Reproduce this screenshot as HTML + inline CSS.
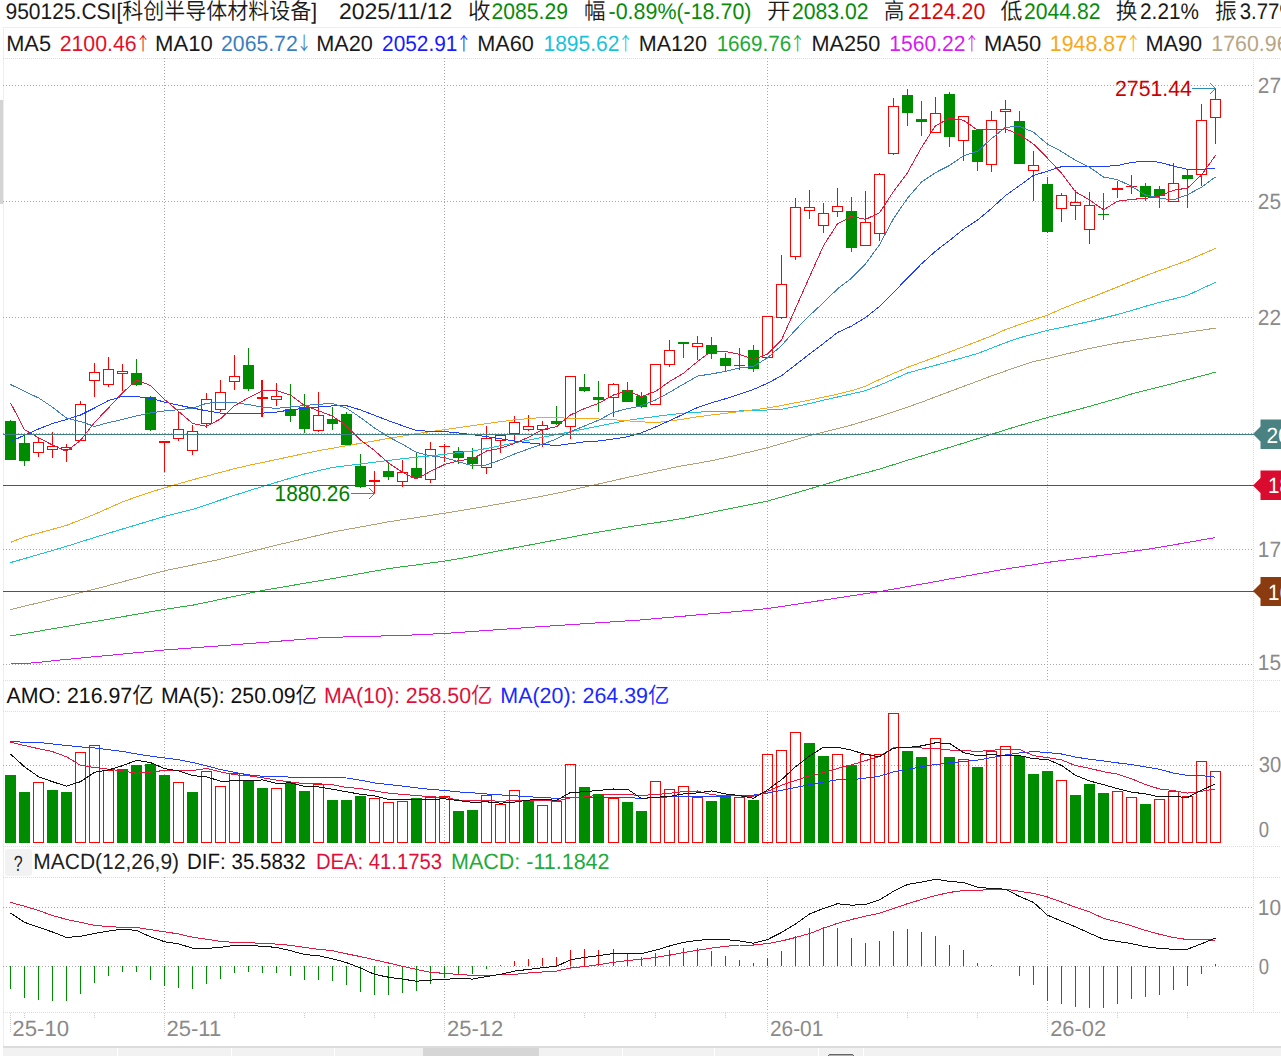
<!DOCTYPE html>
<html><head><meta charset="utf-8"><title>950125.CSI</title>
<style>
html,body{margin:0;padding:0;background:#fff;width:1281px;height:1056px;overflow:hidden;}
#wrap{position:relative;width:1281px;height:1056px;overflow:hidden;}
svg text{font-family:"Liberation Sans", "Noto Sans CJK SC", sans-serif;white-space:pre;text-rendering:geometricPrecision;font-weight:350;}
</style></head><body><div id="wrap">
<svg width="1281" height="1056" viewBox="0 0 1281 1056" style="position:absolute;left:0;top:0" shape-rendering="crispEdges">
<rect x="3" y="28" width="1" height="1018" fill="#eeeeee"/>
<rect x="0" y="100" width="3" height="104" fill="#d4d4d4"/>
<rect x="3" y="27" width="1278" height="1" fill="#eeeeee"/>
<line x1="3" y1="58.5" x2="1281" y2="58.5" stroke="#dddddd" stroke-width="1" stroke-dasharray="1 1"/>
<line x1="3" y1="85.5" x2="1254" y2="85.5" stroke="#a6a6a6" stroke-width="1" stroke-dasharray="1 2"/>
<line x1="3" y1="201.5" x2="1254" y2="201.5" stroke="#a6a6a6" stroke-width="1" stroke-dasharray="1 2"/>
<line x1="3" y1="317.5" x2="1254" y2="317.5" stroke="#a6a6a6" stroke-width="1" stroke-dasharray="1 2"/>
<line x1="3" y1="549.5" x2="1254" y2="549.5" stroke="#a6a6a6" stroke-width="1" stroke-dasharray="1 2"/>
<line x1="3" y1="664.5" x2="1254" y2="664.5" stroke="#a6a6a6" stroke-width="1" stroke-dasharray="1 2"/>
<line x1="3" y1="680.5" x2="1281" y2="680.5" stroke="#dddddd" stroke-width="1" stroke-dasharray="1 1"/>
<line x1="3" y1="711.5" x2="1281" y2="711.5" stroke="#dddddd" stroke-width="1" stroke-dasharray="1 1"/>
<line x1="3" y1="765.5" x2="1254" y2="765.5" stroke="#a6a6a6" stroke-width="1" stroke-dasharray="1 2"/>
<line x1="3" y1="846.5" x2="1281" y2="846.5" stroke="#dddddd" stroke-width="1" stroke-dasharray="1 1"/>
<line x1="3" y1="877.5" x2="1281" y2="877.5" stroke="#dddddd" stroke-width="1" stroke-dasharray="1 1"/>
<line x1="3" y1="907.5" x2="1254" y2="907.5" stroke="#a6a6a6" stroke-width="1" stroke-dasharray="1 2"/>
<line x1="3" y1="966.5" x2="1254" y2="966.5" stroke="#a6a6a6" stroke-width="1" stroke-dasharray="1 2"/>
<line x1="3" y1="1012.5" x2="1281" y2="1012.5" stroke="#dddddd" stroke-width="1" stroke-dasharray="1 1"/>
<line x1="164.5" y1="58" x2="164.5" y2="680" stroke="#a6a6a6" stroke-width="1" stroke-dasharray="1 2"/>
<line x1="164.5" y1="711" x2="164.5" y2="846" stroke="#a6a6a6" stroke-width="1" stroke-dasharray="1 2"/>
<line x1="164.5" y1="877" x2="164.5" y2="1012" stroke="#a6a6a6" stroke-width="1" stroke-dasharray="1 2"/>
<line x1="444.5" y1="58" x2="444.5" y2="680" stroke="#a6a6a6" stroke-width="1" stroke-dasharray="1 2"/>
<line x1="444.5" y1="711" x2="444.5" y2="846" stroke="#a6a6a6" stroke-width="1" stroke-dasharray="1 2"/>
<line x1="444.5" y1="877" x2="444.5" y2="1012" stroke="#a6a6a6" stroke-width="1" stroke-dasharray="1 2"/>
<line x1="767.5" y1="58" x2="767.5" y2="680" stroke="#a6a6a6" stroke-width="1" stroke-dasharray="1 2"/>
<line x1="767.5" y1="711" x2="767.5" y2="846" stroke="#a6a6a6" stroke-width="1" stroke-dasharray="1 2"/>
<line x1="767.5" y1="877" x2="767.5" y2="1012" stroke="#a6a6a6" stroke-width="1" stroke-dasharray="1 2"/>
<line x1="1047.5" y1="58" x2="1047.5" y2="680" stroke="#a6a6a6" stroke-width="1" stroke-dasharray="1 2"/>
<line x1="1047.5" y1="711" x2="1047.5" y2="846" stroke="#a6a6a6" stroke-width="1" stroke-dasharray="1 2"/>
<line x1="1047.5" y1="877" x2="1047.5" y2="1012" stroke="#a6a6a6" stroke-width="1" stroke-dasharray="1 2"/>
<line x1="1253.5" y1="58" x2="1253.5" y2="1012" stroke="#dddddd" stroke-width="1" stroke-dasharray="1 1"/>
<line x1="24.5" y1="1013" x2="24.5" y2="1018" stroke="#cccccc" stroke-width="1" stroke-dasharray="1 1"/>
<line x1="94.5" y1="1013" x2="94.5" y2="1018" stroke="#cccccc" stroke-width="1" stroke-dasharray="1 1"/>
<line x1="234.5" y1="1013" x2="234.5" y2="1018" stroke="#cccccc" stroke-width="1" stroke-dasharray="1 1"/>
<line x1="304.5" y1="1013" x2="304.5" y2="1018" stroke="#cccccc" stroke-width="1" stroke-dasharray="1 1"/>
<line x1="374.5" y1="1013" x2="374.5" y2="1018" stroke="#cccccc" stroke-width="1" stroke-dasharray="1 1"/>
<line x1="514.5" y1="1013" x2="514.5" y2="1018" stroke="#cccccc" stroke-width="1" stroke-dasharray="1 1"/>
<line x1="584.5" y1="1013" x2="584.5" y2="1018" stroke="#cccccc" stroke-width="1" stroke-dasharray="1 1"/>
<line x1="655.5" y1="1013" x2="655.5" y2="1018" stroke="#cccccc" stroke-width="1" stroke-dasharray="1 1"/>
<line x1="725.5" y1="1013" x2="725.5" y2="1018" stroke="#cccccc" stroke-width="1" stroke-dasharray="1 1"/>
<line x1="837.5" y1="1013" x2="837.5" y2="1018" stroke="#cccccc" stroke-width="1" stroke-dasharray="1 1"/>
<line x1="907.5" y1="1013" x2="907.5" y2="1018" stroke="#cccccc" stroke-width="1" stroke-dasharray="1 1"/>
<line x1="977.5" y1="1013" x2="977.5" y2="1018" stroke="#cccccc" stroke-width="1" stroke-dasharray="1 1"/>
<line x1="1117.5" y1="1013" x2="1117.5" y2="1018" stroke="#cccccc" stroke-width="1" stroke-dasharray="1 1"/>
<line x1="1187.5" y1="1013" x2="1187.5" y2="1018" stroke="#cccccc" stroke-width="1" stroke-dasharray="1 1"/>
<line x1="10.5" y1="1013" x2="10.5" y2="1033" stroke="#cccccc" stroke-width="1" stroke-dasharray="1 1"/>
<line x1="164.5" y1="1013" x2="164.5" y2="1033" stroke="#cccccc" stroke-width="1" stroke-dasharray="1 1"/>
<line x1="444.5" y1="1013" x2="444.5" y2="1033" stroke="#cccccc" stroke-width="1" stroke-dasharray="1 1"/>
<line x1="767.5" y1="1013" x2="767.5" y2="1033" stroke="#cccccc" stroke-width="1" stroke-dasharray="1 1"/>
<line x1="1047.5" y1="1013" x2="1047.5" y2="1033" stroke="#cccccc" stroke-width="1" stroke-dasharray="1 1"/>
<line x1="3" y1="433.5" x2="1254" y2="433.5" stroke="#a6a6a6" stroke-width="1" stroke-dasharray="1 2"/>
<rect x="10" y="420" width="1" height="1" fill="#008c00"/>
<rect x="5" y="421" width="11" height="39" fill="#008c00"/>
<rect x="24" y="435" width="1" height="8" fill="#008c00"/>
<rect x="24" y="461" width="1" height="5" fill="#008c00"/>
<rect x="19" y="443" width="11" height="18" fill="#008c00"/>
<rect x="38" y="438" width="1" height="4" fill="#ff0000"/>
<rect x="38" y="453" width="1" height="4" fill="#ff0000"/>
<rect x="33.5" y="442.5" width="10" height="10" fill="#fff" stroke="#ff0000" stroke-width="1"/>
<rect x="52" y="432" width="1" height="14" fill="#ff0000"/>
<rect x="52" y="450" width="1" height="8" fill="#ff0000"/>
<rect x="47.5" y="446.5" width="10" height="3" fill="#fff" stroke="#ff0000" stroke-width="1"/>
<rect x="66" y="444" width="1" height="4" fill="#ff0000"/>
<rect x="66" y="450" width="1" height="12" fill="#ff0000"/>
<rect x="61.5" y="447.5" width="10" height="2" fill="#fff" stroke="#ff0000" stroke-width="1"/>
<rect x="80" y="401" width="1" height="3" fill="#ff0000"/>
<rect x="75.5" y="404.5" width="10" height="36" fill="#fff" stroke="#ff0000" stroke-width="1"/>
<rect x="94" y="363" width="1" height="9" fill="#ff0000"/>
<rect x="94" y="381" width="1" height="16" fill="#ff0000"/>
<rect x="89.5" y="372.5" width="10" height="8" fill="#fff" stroke="#ff0000" stroke-width="1"/>
<rect x="108" y="357" width="1" height="12" fill="#ff0000"/>
<rect x="108" y="385" width="1" height="2" fill="#ff0000"/>
<rect x="103.5" y="369.5" width="10" height="15" fill="#fff" stroke="#ff0000" stroke-width="1"/>
<rect x="122" y="364" width="1" height="7" fill="#ff0000"/>
<rect x="122" y="374" width="1" height="17" fill="#ff0000"/>
<rect x="117.5" y="371.5" width="10" height="2" fill="#fff" stroke="#ff0000" stroke-width="1"/>
<rect x="136" y="359" width="1" height="14" fill="#008c00"/>
<rect x="136" y="385" width="1" height="1" fill="#008c00"/>
<rect x="131" y="373" width="11" height="12" fill="#008c00"/>
<rect x="150" y="396" width="1" height="1" fill="#008c00"/>
<rect x="150" y="430" width="1" height="1" fill="#008c00"/>
<rect x="145" y="397" width="11" height="33" fill="#008c00"/>
<rect x="159" y="441" width="11" height="2" fill="#ff0000"/>
<rect x="164" y="442" width="1" height="30" fill="#ff0000"/>
<rect x="178" y="411" width="1" height="18" fill="#ff0000"/>
<rect x="178" y="439" width="1" height="2" fill="#ff0000"/>
<rect x="173.5" y="429.5" width="10" height="9" fill="#fff" stroke="#ff0000" stroke-width="1"/>
<rect x="192" y="425" width="1" height="6" fill="#ff0000"/>
<rect x="192" y="451" width="1" height="4" fill="#ff0000"/>
<rect x="187.5" y="431.5" width="10" height="19" fill="#fff" stroke="#ff0000" stroke-width="1"/>
<rect x="206" y="393" width="1" height="6" fill="#ff0000"/>
<rect x="206" y="424" width="1" height="4" fill="#ff0000"/>
<rect x="201.5" y="399.5" width="10" height="24" fill="#fff" stroke="#ff0000" stroke-width="1"/>
<rect x="220" y="380" width="1" height="12" fill="#ff0000"/>
<rect x="220" y="410" width="1" height="2" fill="#ff0000"/>
<rect x="215.5" y="392.5" width="10" height="17" fill="#fff" stroke="#ff0000" stroke-width="1"/>
<rect x="234" y="355" width="1" height="21" fill="#ff0000"/>
<rect x="234" y="382" width="1" height="8" fill="#ff0000"/>
<rect x="229.5" y="376.5" width="10" height="5" fill="#fff" stroke="#ff0000" stroke-width="1"/>
<rect x="248" y="348" width="1" height="17" fill="#008c00"/>
<rect x="248" y="389" width="1" height="2" fill="#008c00"/>
<rect x="243" y="365" width="11" height="24" fill="#008c00"/>
<rect x="257" y="397" width="11" height="2" fill="#ff0000"/>
<rect x="261" y="380" width="2" height="37" fill="#ff0000"/>
<rect x="276" y="383" width="1" height="13" fill="#ff0000"/>
<rect x="276" y="400" width="1" height="6" fill="#ff0000"/>
<rect x="271.5" y="396.5" width="10" height="3" fill="#fff" stroke="#ff0000" stroke-width="1"/>
<rect x="290" y="384" width="1" height="25" fill="#008c00"/>
<rect x="290" y="416" width="1" height="6" fill="#008c00"/>
<rect x="285" y="409" width="11" height="7" fill="#008c00"/>
<rect x="304" y="394" width="1" height="13" fill="#008c00"/>
<rect x="304" y="429" width="1" height="4" fill="#008c00"/>
<rect x="299" y="407" width="11" height="22" fill="#008c00"/>
<rect x="318" y="392" width="1" height="23" fill="#ff0000"/>
<rect x="318" y="431" width="1" height="1" fill="#ff0000"/>
<rect x="313.5" y="415.5" width="10" height="15" fill="#fff" stroke="#ff0000" stroke-width="1"/>
<rect x="332" y="407" width="1" height="12" fill="#008c00"/>
<rect x="332" y="424" width="1" height="6" fill="#008c00"/>
<rect x="327" y="419" width="11" height="5" fill="#008c00"/>
<rect x="346" y="412" width="1" height="2" fill="#008c00"/>
<rect x="341" y="414" width="11" height="31" fill="#008c00"/>
<rect x="360" y="454" width="1" height="12" fill="#008c00"/>
<rect x="360" y="487" width="1" height="1" fill="#008c00"/>
<rect x="355" y="466" width="11" height="21" fill="#008c00"/>
<rect x="369" y="480" width="11" height="2" fill="#ff0000"/>
<rect x="374" y="471" width="1" height="22" fill="#ff0000"/>
<rect x="388" y="462" width="1" height="9" fill="#008c00"/>
<rect x="388" y="477" width="1" height="3" fill="#008c00"/>
<rect x="383" y="471" width="11" height="6" fill="#008c00"/>
<rect x="402" y="460" width="1" height="12" fill="#ff0000"/>
<rect x="402" y="482" width="1" height="5" fill="#ff0000"/>
<rect x="397.5" y="472.5" width="10" height="9" fill="#fff" stroke="#ff0000" stroke-width="1"/>
<rect x="416" y="452" width="1" height="16" fill="#008c00"/>
<rect x="416" y="478" width="1" height="1" fill="#008c00"/>
<rect x="411" y="468" width="11" height="10" fill="#008c00"/>
<rect x="430" y="442" width="1" height="7" fill="#ff0000"/>
<rect x="430" y="480" width="1" height="3" fill="#ff0000"/>
<rect x="425.5" y="449.5" width="10" height="30" fill="#fff" stroke="#ff0000" stroke-width="1"/>
<rect x="439" y="446" width="11" height="1" fill="#ff0000"/>
<rect x="444" y="444" width="1" height="18" fill="#ff0000"/>
<rect x="458" y="447" width="1" height="4" fill="#008c00"/>
<rect x="458" y="458" width="1" height="6" fill="#008c00"/>
<rect x="453" y="451" width="11" height="7" fill="#008c00"/>
<rect x="472" y="448" width="1" height="9" fill="#008c00"/>
<rect x="472" y="464" width="1" height="5" fill="#008c00"/>
<rect x="467" y="457" width="11" height="7" fill="#008c00"/>
<rect x="486" y="426" width="1" height="12" fill="#ff0000"/>
<rect x="486" y="468" width="1" height="6" fill="#ff0000"/>
<rect x="481.5" y="438.5" width="10" height="29" fill="#fff" stroke="#ff0000" stroke-width="1"/>
<rect x="500" y="441" width="1" height="12" fill="#ff0000"/>
<rect x="495.5" y="435.5" width="10" height="5" fill="#fff" stroke="#ff0000" stroke-width="1"/>
<rect x="514" y="416" width="1" height="6" fill="#ff0000"/>
<rect x="514" y="434" width="1" height="8" fill="#ff0000"/>
<rect x="509.5" y="422.5" width="10" height="11" fill="#fff" stroke="#ff0000" stroke-width="1"/>
<rect x="528" y="415" width="1" height="11" fill="#ff0000"/>
<rect x="528" y="430" width="1" height="1" fill="#ff0000"/>
<rect x="523.5" y="426.5" width="10" height="3" fill="#fff" stroke="#ff0000" stroke-width="1"/>
<rect x="542" y="421" width="1" height="5" fill="#ff0000"/>
<rect x="542" y="430" width="1" height="17" fill="#ff0000"/>
<rect x="537.5" y="425.5" width="10" height="4" fill="#fff" stroke="#ff0000" stroke-width="1"/>
<rect x="556" y="406" width="1" height="15" fill="#008c00"/>
<rect x="556" y="424" width="1" height="1" fill="#008c00"/>
<rect x="551" y="421" width="11" height="3" fill="#008c00"/>
<rect x="570" y="427" width="1" height="12" fill="#ff0000"/>
<rect x="565.5" y="376.5" width="10" height="50" fill="#fff" stroke="#ff0000" stroke-width="1"/>
<rect x="584" y="374" width="1" height="13" fill="#008c00"/>
<rect x="584" y="391" width="1" height="1" fill="#008c00"/>
<rect x="579" y="387" width="11" height="4" fill="#008c00"/>
<rect x="598" y="381" width="1" height="16" fill="#008c00"/>
<rect x="598" y="400" width="1" height="12" fill="#008c00"/>
<rect x="593" y="397" width="11" height="3" fill="#008c00"/>
<rect x="613" y="383" width="1" height="1" fill="#ff0000"/>
<rect x="613" y="398" width="1" height="19" fill="#ff0000"/>
<rect x="608.5" y="384.5" width="10" height="13" fill="#fff" stroke="#ff0000" stroke-width="1"/>
<rect x="627" y="382" width="1" height="8" fill="#008c00"/>
<rect x="622" y="390" width="11" height="12" fill="#008c00"/>
<rect x="641" y="392" width="1" height="4" fill="#008c00"/>
<rect x="641" y="407" width="1" height="1" fill="#008c00"/>
<rect x="636" y="396" width="11" height="11" fill="#008c00"/>
<rect x="650.5" y="364.5" width="10" height="40" fill="#fff" stroke="#ff0000" stroke-width="1"/>
<rect x="669" y="340" width="1" height="10" fill="#ff0000"/>
<rect x="669" y="365" width="1" height="2" fill="#ff0000"/>
<rect x="664.5" y="350.5" width="10" height="14" fill="#fff" stroke="#ff0000" stroke-width="1"/>
<rect x="678" y="342" width="11" height="2" fill="#008c00"/>
<rect x="683" y="342" width="1" height="16" fill="#008c00"/>
<rect x="697" y="336" width="1" height="8" fill="#ff0000"/>
<rect x="697" y="347" width="1" height="13" fill="#ff0000"/>
<rect x="692.5" y="343.5" width="10" height="3" fill="#fff" stroke="#ff0000" stroke-width="1"/>
<rect x="711" y="337" width="1" height="8" fill="#008c00"/>
<rect x="711" y="354" width="1" height="5" fill="#008c00"/>
<rect x="706" y="345" width="11" height="9" fill="#008c00"/>
<rect x="725" y="353" width="1" height="5" fill="#008c00"/>
<rect x="725" y="366" width="1" height="5" fill="#008c00"/>
<rect x="720" y="358" width="11" height="8" fill="#008c00"/>
<rect x="734" y="365" width="11" height="1" fill="#ff0000"/>
<rect x="739" y="348" width="1" height="22" fill="#ff0000"/>
<rect x="753" y="345" width="1" height="5" fill="#008c00"/>
<rect x="753" y="369" width="1" height="3" fill="#008c00"/>
<rect x="748" y="350" width="11" height="19" fill="#008c00"/>
<rect x="762.5" y="316.5" width="10" height="41" fill="#fff" stroke="#ff0000" stroke-width="1"/>
<rect x="781" y="255" width="1" height="29" fill="#ff0000"/>
<rect x="781" y="318" width="1" height="1" fill="#ff0000"/>
<rect x="776.5" y="284.5" width="10" height="33" fill="#fff" stroke="#ff0000" stroke-width="1"/>
<rect x="795" y="198" width="1" height="9" fill="#ff0000"/>
<rect x="795" y="257" width="1" height="3" fill="#ff0000"/>
<rect x="790.5" y="207.5" width="10" height="49" fill="#fff" stroke="#ff0000" stroke-width="1"/>
<rect x="809" y="190" width="1" height="17" fill="#ff0000"/>
<rect x="809" y="211" width="1" height="8" fill="#ff0000"/>
<rect x="804.5" y="207.5" width="10" height="3" fill="#fff" stroke="#ff0000" stroke-width="1"/>
<rect x="823" y="203" width="1" height="10" fill="#ff0000"/>
<rect x="823" y="226" width="1" height="7" fill="#ff0000"/>
<rect x="818.5" y="213.5" width="10" height="12" fill="#fff" stroke="#ff0000" stroke-width="1"/>
<rect x="837" y="188" width="1" height="18" fill="#ff0000"/>
<rect x="837" y="212" width="1" height="5" fill="#ff0000"/>
<rect x="832.5" y="206.5" width="10" height="5" fill="#fff" stroke="#ff0000" stroke-width="1"/>
<rect x="851" y="197" width="1" height="14" fill="#008c00"/>
<rect x="851" y="248" width="1" height="4" fill="#008c00"/>
<rect x="846" y="211" width="11" height="37" fill="#008c00"/>
<rect x="865" y="191" width="1" height="31" fill="#ff0000"/>
<rect x="860.5" y="222.5" width="10" height="23" fill="#fff" stroke="#ff0000" stroke-width="1"/>
<rect x="879" y="173" width="1" height="1" fill="#ff0000"/>
<rect x="879" y="234" width="1" height="7" fill="#ff0000"/>
<rect x="874.5" y="174.5" width="10" height="59" fill="#fff" stroke="#ff0000" stroke-width="1"/>
<rect x="893" y="98" width="1" height="8" fill="#ff0000"/>
<rect x="893" y="154" width="1" height="1" fill="#ff0000"/>
<rect x="888.5" y="106.5" width="10" height="47" fill="#fff" stroke="#ff0000" stroke-width="1"/>
<rect x="907" y="89" width="1" height="6" fill="#008c00"/>
<rect x="907" y="113" width="1" height="13" fill="#008c00"/>
<rect x="902" y="95" width="11" height="18" fill="#008c00"/>
<rect x="921" y="101" width="1" height="18" fill="#008c00"/>
<rect x="921" y="122" width="1" height="14" fill="#008c00"/>
<rect x="916" y="119" width="11" height="3" fill="#008c00"/>
<rect x="935" y="97" width="1" height="16" fill="#ff0000"/>
<rect x="930.5" y="113.5" width="10" height="19" fill="#fff" stroke="#ff0000" stroke-width="1"/>
<rect x="949" y="92" width="1" height="2" fill="#008c00"/>
<rect x="949" y="137" width="1" height="10" fill="#008c00"/>
<rect x="944" y="94" width="11" height="43" fill="#008c00"/>
<rect x="963" y="141" width="1" height="20" fill="#ff0000"/>
<rect x="958.5" y="116.5" width="10" height="24" fill="#fff" stroke="#ff0000" stroke-width="1"/>
<rect x="977" y="129" width="1" height="1" fill="#008c00"/>
<rect x="977" y="162" width="1" height="9" fill="#008c00"/>
<rect x="972" y="130" width="11" height="32" fill="#008c00"/>
<rect x="991" y="111" width="1" height="9" fill="#ff0000"/>
<rect x="991" y="165" width="1" height="7" fill="#ff0000"/>
<rect x="986.5" y="120.5" width="10" height="44" fill="#fff" stroke="#ff0000" stroke-width="1"/>
<rect x="1005" y="100" width="1" height="9" fill="#ff0000"/>
<rect x="1005" y="112" width="1" height="21" fill="#ff0000"/>
<rect x="1000.5" y="109.5" width="10" height="2" fill="#fff" stroke="#ff0000" stroke-width="1"/>
<rect x="1019" y="111" width="1" height="10" fill="#008c00"/>
<rect x="1014" y="121" width="11" height="43" fill="#008c00"/>
<rect x="1033" y="151" width="1" height="14" fill="#ff0000"/>
<rect x="1033" y="171" width="1" height="30" fill="#ff0000"/>
<rect x="1028.5" y="165.5" width="10" height="5" fill="#fff" stroke="#ff0000" stroke-width="1"/>
<rect x="1047" y="177" width="1" height="7" fill="#008c00"/>
<rect x="1047" y="232" width="1" height="1" fill="#008c00"/>
<rect x="1042" y="184" width="11" height="48" fill="#008c00"/>
<rect x="1061" y="193" width="1" height="2" fill="#ff0000"/>
<rect x="1061" y="209" width="1" height="13" fill="#ff0000"/>
<rect x="1056.5" y="195.5" width="10" height="13" fill="#fff" stroke="#ff0000" stroke-width="1"/>
<rect x="1075" y="190" width="1" height="12" fill="#ff0000"/>
<rect x="1075" y="206" width="1" height="14" fill="#ff0000"/>
<rect x="1070.5" y="202.5" width="10" height="3" fill="#fff" stroke="#ff0000" stroke-width="1"/>
<rect x="1089" y="192" width="1" height="14" fill="#ff0000"/>
<rect x="1089" y="230" width="1" height="14" fill="#ff0000"/>
<rect x="1084.5" y="205.5" width="10" height="24" fill="#fff" stroke="#ff0000" stroke-width="1"/>
<rect x="1098" y="214" width="11" height="1" fill="#008c00"/>
<rect x="1103" y="193" width="1" height="27" fill="#008c00"/>
<rect x="1112" y="188" width="11" height="2" fill="#ff0000"/>
<rect x="1117" y="181" width="1" height="17" fill="#ff0000"/>
<rect x="1126" y="186" width="11" height="1" fill="#ff0000"/>
<rect x="1131" y="175" width="1" height="19" fill="#ff0000"/>
<rect x="1145" y="183" width="1" height="3" fill="#008c00"/>
<rect x="1145" y="197" width="1" height="4" fill="#008c00"/>
<rect x="1140" y="186" width="11" height="11" fill="#008c00"/>
<rect x="1159" y="186" width="1" height="3" fill="#008c00"/>
<rect x="1159" y="196" width="1" height="12" fill="#008c00"/>
<rect x="1154" y="189" width="11" height="7" fill="#008c00"/>
<rect x="1173" y="163" width="1" height="21" fill="#ff0000"/>
<rect x="1168.5" y="183.5" width="10" height="18" fill="#fff" stroke="#ff0000" stroke-width="1"/>
<rect x="1187" y="170" width="1" height="5" fill="#008c00"/>
<rect x="1187" y="179" width="1" height="29" fill="#008c00"/>
<rect x="1182" y="175" width="11" height="4" fill="#008c00"/>
<rect x="1201" y="104" width="1" height="16" fill="#ff0000"/>
<rect x="1201" y="175" width="1" height="11" fill="#ff0000"/>
<rect x="1196.5" y="120.5" width="10" height="54" fill="#fff" stroke="#ff0000" stroke-width="1"/>
<rect x="1215" y="89" width="1" height="10" fill="#ff0000"/>
<rect x="1215" y="118" width="1" height="26" fill="#ff0000"/>
<rect x="1210.5" y="99.5" width="10" height="18" fill="#fff" stroke="#ff0000" stroke-width="1"/>
<g shape-rendering="crispEdges">
<polyline points="10.5,663.5 24.5,663.5 38.5,662.4 52.5,660.8 66.5,659.4 80.5,658.1 94.5,656.7 108.5,655.4 122.5,654.1 136.5,652.7 150.5,651.4 164.5,650.0 178.5,649.0 192.5,647.9 206.5,646.8 220.5,645.8 234.5,644.7 248.5,643.6 262.5,642.5 276.5,641.4 290.5,640.3 304.5,639.1 318.5,638.0 332.5,637.3 346.5,636.9 360.5,636.6 374.5,636.2 388.5,635.8 402.5,635.4 416.5,634.8 430.5,634.1 444.5,633.5 458.5,632.5 472.5,631.5 486.5,630.5 500.5,629.5 514.5,628.5 528.5,627.5 542.5,626.5 556.5,625.6 570.5,624.6 584.5,623.7 598.5,622.8 613.5,621.8 627.5,620.8 641.5,619.9 655.5,618.6 669.5,617.4 683.5,616.2 697.5,614.9 711.5,613.7 725.5,612.5 739.5,611.2 753.5,610.0 767.5,608.6 781.5,606.5 795.5,604.4 809.5,602.2 823.5,600.1 837.5,598.0 851.5,595.8 865.5,593.7 879.5,591.6 893.5,589.1 907.5,586.6 921.5,584.1 935.5,581.6 949.5,579.0 963.5,576.5 977.5,574.0 991.5,571.5 1005.5,569.1 1019.5,566.9 1033.5,564.7 1047.5,562.4 1061.5,560.6 1075.5,558.8 1089.5,556.9 1103.5,555.1 1117.5,553.3 1131.5,551.4 1145.5,549.6 1159.5,547.3 1173.5,544.9 1187.5,542.4 1201.5,540.0 1215.5,537.5" fill="none" stroke="#d21cf2" stroke-width="1" stroke-linejoin="round"/>
<polyline points="10.5,636.0 24.5,633.6 38.5,631.2 52.5,628.8 66.5,626.4 80.5,624.0 94.5,621.6 108.5,619.2 122.5,616.7 136.5,614.3 150.5,611.8 164.5,609.4 178.5,607.3 192.5,605.2 206.5,602.4 220.5,599.3 234.5,596.3 248.5,593.4 262.5,590.5 276.5,588.1 290.5,585.7 304.5,583.3 318.5,581.0 332.5,578.6 346.5,576.1 360.5,573.6 374.5,571.1 388.5,568.6 402.5,566.7 416.5,564.9 430.5,563.0 444.5,561.1 458.5,558.8 472.5,556.1 486.5,553.3 500.5,550.6 514.5,547.8 528.5,545.2 542.5,542.5 556.5,539.9 570.5,537.3 584.5,534.6 598.5,532.1 613.5,529.5 627.5,527.1 641.5,524.9 655.5,522.8 669.5,520.6 683.5,518.3 697.5,515.3 711.5,512.4 725.5,509.5 739.5,506.7 753.5,503.9 767.5,501.1 781.5,497.1 795.5,493.0 809.5,488.9 823.5,484.8 837.5,480.6 851.5,476.6 865.5,472.9 879.5,469.1 893.5,464.7 907.5,460.3 921.5,456.0 935.5,451.7 949.5,447.4 963.5,443.1 977.5,438.7 991.5,434.3 1005.5,429.8 1019.5,425.6 1033.5,421.5 1047.5,417.5 1061.5,413.8 1075.5,410.2 1089.5,406.4 1103.5,402.4 1117.5,398.4 1131.5,394.0 1145.5,390.4 1159.5,386.9 1173.5,383.3 1187.5,379.6 1201.5,375.9 1215.5,372.2" fill="none" stroke="#2bb23c" stroke-width="1" stroke-linejoin="round"/>
<polyline points="10.5,609.6 24.5,606.2 38.5,602.8 52.5,599.4 66.5,596.1 80.5,592.7 94.5,589.2 108.5,585.5 122.5,581.8 136.5,578.1 150.5,574.4 164.5,570.8 178.5,567.9 192.5,565.0 206.5,562.1 220.5,559.2 234.5,555.7 248.5,552.2 262.5,548.6 276.5,545.1 290.5,541.9 304.5,538.6 318.5,535.3 332.5,532.1 346.5,529.5 360.5,527.0 374.5,524.4 388.5,521.8 402.5,519.7 416.5,517.6 430.5,515.4 444.5,513.2 458.5,510.9 472.5,508.6 486.5,506.2 500.5,503.8 514.5,501.2 528.5,498.7 542.5,496.1 556.5,493.4 570.5,490.2 584.5,487.1 598.5,484.0 613.5,480.6 627.5,477.4 641.5,474.4 655.5,471.4 669.5,468.4 683.5,465.6 697.5,463.2 711.5,460.7 725.5,457.7 739.5,454.4 753.5,451.1 767.5,447.7 781.5,443.7 795.5,439.7 809.5,435.7 823.5,432.2 837.5,428.7 851.5,425.0 865.5,420.8 879.5,416.6 893.5,411.8 907.5,407.1 921.5,402.2 935.5,396.9 949.5,391.6 963.5,386.4 977.5,381.2 991.5,375.9 1005.5,371.0 1019.5,366.1 1033.5,361.6 1047.5,358.5 1061.5,355.2 1075.5,351.8 1089.5,348.5 1103.5,345.7 1117.5,343.0 1131.5,340.7 1145.5,338.6 1159.5,336.4 1173.5,334.3 1187.5,332.3 1201.5,330.2 1215.5,328.1" fill="none" stroke="#b4a074" stroke-width="1" stroke-linejoin="round"/>
<polyline points="10.5,562.6 24.5,558.6 38.5,554.5 52.5,550.5 66.5,546.3 80.5,541.9 94.5,537.5 108.5,533.2 122.5,529.0 136.5,524.8 150.5,520.6 164.5,516.4 178.5,512.9 192.5,509.4 206.5,504.8 220.5,500.0 234.5,495.3 248.5,490.8 262.5,486.5 276.5,482.3 290.5,478.1 304.5,474.0 318.5,470.7 332.5,467.4 346.5,465.7 360.5,464.0 374.5,462.2 388.5,460.5 402.5,458.7 416.5,457.2 430.5,455.8 444.5,454.3 458.5,452.6 472.5,450.9 486.5,448.5 500.5,445.7 514.5,442.9 528.5,440.1 542.5,437.3 556.5,434.5 570.5,431.7 584.5,428.9 598.5,426.1 613.5,423.1 627.5,420.3 641.5,418.4 655.5,416.5 669.5,414.7 683.5,413.1 697.5,412.1 711.5,411.7 725.5,411.4 739.5,411.0 753.5,410.6 767.5,410.0 781.5,409.3 795.5,406.6 809.5,403.5 823.5,400.2 837.5,397.0 851.5,393.9 865.5,390.7 879.5,385.2 893.5,379.2 907.5,373.0 921.5,369.1 935.5,365.3 949.5,361.4 963.5,357.5 977.5,353.6 991.5,348.1 1005.5,342.7 1019.5,337.8 1033.5,334.1 1047.5,330.4 1061.5,327.5 1075.5,324.5 1089.5,321.5 1103.5,318.0 1117.5,314.5 1131.5,310.5 1145.5,306.3 1159.5,302.4 1173.5,299.0 1187.5,295.3 1201.5,288.8 1215.5,282.3" fill="none" stroke="#1cc3dd" stroke-width="1" stroke-linejoin="round"/>
<polyline points="10.5,542.4 24.5,536.9 38.5,533.1 52.5,529.3 66.5,525.4 80.5,519.9 94.5,514.4 108.5,508.1 122.5,501.9 136.5,496.8 150.5,492.1 164.5,487.9 178.5,483.8 192.5,479.8 206.5,476.1 220.5,472.4 234.5,468.7 248.5,465.4 262.5,462.5 276.5,459.5 290.5,456.5 304.5,453.5 318.5,450.7 332.5,448.2 346.5,445.8 360.5,443.3 374.5,440.9 388.5,438.4 402.5,436.1 416.5,433.7 430.5,431.6 444.5,429.6 458.5,427.6 472.5,425.7 486.5,423.7 500.5,421.7 514.5,419.8 528.5,418.6 542.5,417.5 556.5,417.8 570.5,418.2 584.5,418.5 598.5,419.0 613.5,419.7 627.5,420.8 641.5,421.8 655.5,422.7 669.5,421.0 683.5,419.1 697.5,416.8 711.5,415.0 725.5,413.3 739.5,411.5 753.5,409.8 767.5,408.0 781.5,405.6 795.5,402.8 809.5,400.1 823.5,397.1 837.5,394.2 851.5,390.7 865.5,386.1 879.5,379.5 893.5,373.4 907.5,367.4 921.5,362.2 935.5,357.1 949.5,352.0 963.5,346.7 977.5,341.4 991.5,335.9 1005.5,329.6 1019.5,324.6 1033.5,319.7 1047.5,315.2 1061.5,308.9 1075.5,303.3 1089.5,298.2 1103.5,292.6 1117.5,287.0 1131.5,281.4 1145.5,275.8 1159.5,270.5 1173.5,265.6 1187.5,260.4 1201.5,254.4 1215.5,248.4" fill="none" stroke="#f5a81c" stroke-width="1" stroke-linejoin="round"/>
</g>
<g shape-rendering="crispEdges">
<polyline points="10.5,441.7 24.5,435.2 38.5,429.0 52.5,423.5 66.5,419.5 80.5,415.0 94.5,408.0 108.5,400.5 122.5,396.4 136.5,396.5 150.5,398.3 164.5,402.1 178.5,405.2 192.5,408.0 206.5,410.8 220.5,413.1 234.5,414.0 248.5,413.5 262.5,413.1 276.5,412.1 290.5,409.9 304.5,408.3 318.5,407.0 332.5,405.9 346.5,405.7 360.5,409.9 374.5,415.3 388.5,420.7 402.5,425.7 416.5,430.4 430.5,431.4 444.5,431.6 458.5,433.0 472.5,434.6 486.5,436.6 500.5,438.7 514.5,441.0 528.5,442.9 542.5,444.3 556.5,445.6 570.5,443.7 584.5,441.8 598.5,441.0 613.5,439.0 627.5,436.8 641.5,432.8 655.5,427.0 669.5,420.7 683.5,414.2 697.5,407.5 711.5,402.8 725.5,398.7 739.5,394.1 753.5,389.4 767.5,383.3 781.5,375.7 795.5,364.9 809.5,354.0 823.5,343.4 837.5,332.5 851.5,326.1 865.5,317.6 879.5,306.4 893.5,292.5 907.5,278.0 921.5,263.8 935.5,251.2 949.5,240.5 963.5,229.2 977.5,220.1 991.5,208.4 1005.5,195.6 1019.5,185.6 1033.5,175.4 1047.5,171.2 1061.5,166.7 1075.5,166.5 1089.5,166.4 1103.5,166.4 1117.5,165.5 1131.5,162.4 1145.5,161.2 1159.5,162.2 1173.5,166.1 1187.5,169.4 1201.5,169.3 1215.5,168.6" fill="none" stroke="#1f3fff" stroke-width="1" stroke-linejoin="round"/>
<polyline points="10.5,384.5 24.5,391.3 38.5,397.9 52.5,407.2 66.5,418.1 80.5,421.6 94.5,426.4 108.5,422.6 122.5,419.5 136.5,415.9 150.5,412.9 164.5,411.0 178.5,409.7 192.5,408.2 206.5,403.3 220.5,402.2 234.5,402.6 248.5,404.6 262.5,407.2 276.5,408.4 290.5,407.0 304.5,405.6 318.5,404.2 332.5,403.6 346.5,408.1 360.5,417.6 374.5,428.0 388.5,436.8 402.5,444.3 416.5,452.4 430.5,455.8 444.5,457.5 458.5,461.8 472.5,465.7 486.5,465.0 500.5,459.9 514.5,454.0 528.5,448.9 542.5,444.3 556.5,438.9 570.5,431.6 584.5,426.0 598.5,420.2 613.5,412.3 627.5,408.7 641.5,405.8 655.5,400.0 669.5,392.4 683.5,384.1 697.5,376.1 711.5,373.9 725.5,371.4 739.5,367.9 753.5,366.4 767.5,357.8 781.5,345.6 795.5,329.9 809.5,315.6 823.5,302.6 837.5,288.9 851.5,278.2 865.5,263.9 879.5,244.8 893.5,218.6 907.5,198.2 921.5,182.0 935.5,172.6 949.5,165.5 963.5,155.8 977.5,151.3 991.5,138.6 1005.5,127.3 1019.5,126.3 1033.5,132.2 1047.5,144.1 1061.5,151.5 1075.5,160.3 1089.5,167.2 1103.5,177.0 1117.5,179.7 1131.5,186.3 1145.5,195.0 1159.5,198.1 1173.5,200.0 1187.5,194.7 1201.5,187.2 1215.5,176.9" fill="none" stroke="#3f7fbf" stroke-width="1" stroke-linejoin="round"/>
<polyline points="10.5,402.8 24.5,429.7 38.5,437.8 52.5,445.0 66.5,451.4 80.5,440.3 94.5,422.5 108.5,407.9 122.5,392.9 136.5,380.3 150.5,385.4 164.5,399.4 178.5,411.4 192.5,423.4 206.5,426.4 220.5,418.9 234.5,405.8 248.5,397.7 262.5,391.0 276.5,390.4 290.5,395.1 304.5,405.5 318.5,410.8 332.5,416.1 346.5,425.9 360.5,440.1 374.5,450.6 388.5,462.9 402.5,472.4 416.5,478.9 430.5,471.4 444.5,464.5 458.5,460.7 472.5,458.9 486.5,451.0 500.5,448.3 514.5,443.4 528.5,437.2 542.5,429.6 556.5,426.8 570.5,414.9 584.5,408.6 598.5,403.3 613.5,395.0 627.5,390.6 641.5,396.7 655.5,391.4 669.5,381.5 683.5,373.2 697.5,361.5 711.5,351.1 725.5,351.4 739.5,354.4 753.5,359.5 767.5,354.1 781.5,340.0 795.5,308.4 809.5,276.8 823.5,245.7 837.5,223.8 851.5,216.5 865.5,219.4 879.5,212.8 893.5,191.5 907.5,172.7 921.5,147.5 935.5,125.7 949.5,118.2 963.5,120.2 977.5,130.0 991.5,129.7 1005.5,128.9 1019.5,134.4 1033.5,144.2 1047.5,158.2 1061.5,173.2 1075.5,191.8 1089.5,200.0 1103.5,209.8 1117.5,201.2 1131.5,199.4 1145.5,198.3 1159.5,196.3 1173.5,190.2 1187.5,188.1 1201.5,174.9 1215.5,155.5" fill="none" stroke="#e4173e" stroke-width="1" stroke-linejoin="round"/>
</g>
<rect x="3" y="434" width="1251" height="1" fill="#408080"/>
<rect x="3" y="485" width="1251" height="1" fill="#d8163c"/>
<rect x="3" y="591" width="1251" height="1" fill="#8b4513"/>
<rect x="5" y="775" width="11" height="68" fill="#008c00"/>
<rect x="19" y="792" width="11" height="51" fill="#008c00"/>
<rect x="33.5" y="782.5" width="10" height="60" fill="none" stroke="#ff0000" stroke-width="1"/>
<rect x="47" y="790" width="11" height="53" fill="#008c00"/>
<rect x="61" y="792" width="11" height="51" fill="#008c00"/>
<rect x="75.5" y="752.5" width="10" height="90" fill="none" stroke="#ff0000" stroke-width="1"/>
<rect x="89.5" y="745.5" width="10" height="97" fill="none" stroke="#ff0000" stroke-width="1"/>
<rect x="103.5" y="770.5" width="10" height="72" fill="none" stroke="#ff0000" stroke-width="1"/>
<rect x="117" y="769" width="11" height="74" fill="#008c00"/>
<rect x="131" y="765" width="11" height="78" fill="#008c00"/>
<rect x="145" y="764" width="11" height="79" fill="#008c00"/>
<rect x="159" y="775" width="11" height="68" fill="#008c00"/>
<rect x="173.5" y="782.5" width="10" height="60" fill="none" stroke="#ff0000" stroke-width="1"/>
<rect x="187" y="792" width="11" height="51" fill="#008c00"/>
<rect x="201.5" y="771.5" width="10" height="71" fill="none" stroke="#ff0000" stroke-width="1"/>
<rect x="215.5" y="786.5" width="10" height="56" fill="none" stroke="#ff0000" stroke-width="1"/>
<rect x="229.5" y="773.5" width="10" height="69" fill="none" stroke="#ff0000" stroke-width="1"/>
<rect x="243" y="781" width="11" height="62" fill="#008c00"/>
<rect x="257" y="788" width="11" height="55" fill="#008c00"/>
<rect x="271.5" y="788.5" width="10" height="54" fill="none" stroke="#ff0000" stroke-width="1"/>
<rect x="285" y="783" width="11" height="60" fill="#008c00"/>
<rect x="299" y="791" width="11" height="52" fill="#008c00"/>
<rect x="313.5" y="784.5" width="10" height="58" fill="none" stroke="#ff0000" stroke-width="1"/>
<rect x="327" y="800" width="11" height="43" fill="#008c00"/>
<rect x="341" y="800" width="11" height="43" fill="#008c00"/>
<rect x="355" y="796" width="11" height="47" fill="#008c00"/>
<rect x="369.5" y="798.5" width="10" height="44" fill="none" stroke="#ff0000" stroke-width="1"/>
<rect x="383.5" y="802.5" width="10" height="40" fill="none" stroke="#ff0000" stroke-width="1"/>
<rect x="397.5" y="801.5" width="10" height="41" fill="none" stroke="#ff0000" stroke-width="1"/>
<rect x="411" y="798" width="11" height="45" fill="#008c00"/>
<rect x="425.5" y="797.5" width="10" height="45" fill="none" stroke="#ff0000" stroke-width="1"/>
<rect x="439.5" y="796.5" width="10" height="46" fill="none" stroke="#ff0000" stroke-width="1"/>
<rect x="453" y="811" width="11" height="32" fill="#008c00"/>
<rect x="467" y="810" width="11" height="33" fill="#008c00"/>
<rect x="481.5" y="795.5" width="10" height="47" fill="none" stroke="#ff0000" stroke-width="1"/>
<rect x="495.5" y="804.5" width="10" height="38" fill="none" stroke="#ff0000" stroke-width="1"/>
<rect x="509.5" y="790.5" width="10" height="52" fill="none" stroke="#ff0000" stroke-width="1"/>
<rect x="523" y="801" width="11" height="42" fill="#008c00"/>
<rect x="537.5" y="805.5" width="10" height="37" fill="none" stroke="#ff0000" stroke-width="1"/>
<rect x="551.5" y="801.5" width="10" height="41" fill="none" stroke="#ff0000" stroke-width="1"/>
<rect x="565.5" y="764.5" width="10" height="78" fill="none" stroke="#ff0000" stroke-width="1"/>
<rect x="579" y="787" width="11" height="56" fill="#008c00"/>
<rect x="593" y="794" width="11" height="49" fill="#008c00"/>
<rect x="608.5" y="798.5" width="10" height="44" fill="none" stroke="#ff0000" stroke-width="1"/>
<rect x="622" y="802" width="11" height="41" fill="#008c00"/>
<rect x="636" y="811" width="11" height="32" fill="#008c00"/>
<rect x="650.5" y="781.5" width="10" height="61" fill="none" stroke="#ff0000" stroke-width="1"/>
<rect x="664.5" y="789.5" width="10" height="53" fill="none" stroke="#ff0000" stroke-width="1"/>
<rect x="678.5" y="786.5" width="10" height="56" fill="none" stroke="#ff0000" stroke-width="1"/>
<rect x="692.5" y="797.5" width="10" height="45" fill="none" stroke="#ff0000" stroke-width="1"/>
<rect x="706" y="801" width="11" height="42" fill="#008c00"/>
<rect x="720" y="797" width="11" height="46" fill="#008c00"/>
<rect x="734.5" y="797.5" width="10" height="45" fill="none" stroke="#ff0000" stroke-width="1"/>
<rect x="748" y="800" width="11" height="43" fill="#008c00"/>
<rect x="762.5" y="754.5" width="10" height="88" fill="none" stroke="#ff0000" stroke-width="1"/>
<rect x="776.5" y="750.5" width="10" height="92" fill="none" stroke="#ff0000" stroke-width="1"/>
<rect x="790.5" y="732.5" width="10" height="110" fill="none" stroke="#ff0000" stroke-width="1"/>
<rect x="804" y="743" width="11" height="100" fill="#008c00"/>
<rect x="818" y="756" width="11" height="87" fill="#008c00"/>
<rect x="832.5" y="754.5" width="10" height="88" fill="none" stroke="#ff0000" stroke-width="1"/>
<rect x="846" y="765" width="11" height="78" fill="#008c00"/>
<rect x="860.5" y="754.5" width="10" height="88" fill="none" stroke="#ff0000" stroke-width="1"/>
<rect x="874.5" y="754.5" width="10" height="88" fill="none" stroke="#ff0000" stroke-width="1"/>
<rect x="888.5" y="713.5" width="10" height="129" fill="none" stroke="#ff0000" stroke-width="1"/>
<rect x="902" y="751" width="11" height="92" fill="#008c00"/>
<rect x="916" y="757" width="11" height="86" fill="#008c00"/>
<rect x="930.5" y="738.5" width="10" height="104" fill="none" stroke="#ff0000" stroke-width="1"/>
<rect x="944" y="757" width="11" height="86" fill="#008c00"/>
<rect x="958.5" y="759.5" width="10" height="83" fill="none" stroke="#ff0000" stroke-width="1"/>
<rect x="972" y="767" width="11" height="76" fill="#008c00"/>
<rect x="986.5" y="751.5" width="10" height="91" fill="none" stroke="#ff0000" stroke-width="1"/>
<rect x="1000.5" y="746.5" width="10" height="96" fill="none" stroke="#ff0000" stroke-width="1"/>
<rect x="1014" y="756" width="11" height="87" fill="#008c00"/>
<rect x="1028" y="774" width="11" height="69" fill="#008c00"/>
<rect x="1042" y="771" width="11" height="72" fill="#008c00"/>
<rect x="1056.5" y="780.5" width="10" height="62" fill="none" stroke="#ff0000" stroke-width="1"/>
<rect x="1070" y="795" width="11" height="48" fill="#008c00"/>
<rect x="1084" y="784" width="11" height="59" fill="#008c00"/>
<rect x="1098" y="793" width="11" height="50" fill="#008c00"/>
<rect x="1112.5" y="791.5" width="10" height="51" fill="none" stroke="#ff0000" stroke-width="1"/>
<rect x="1126.5" y="797.5" width="10" height="45" fill="none" stroke="#ff0000" stroke-width="1"/>
<rect x="1140" y="804" width="11" height="39" fill="#008c00"/>
<rect x="1154.5" y="799.5" width="10" height="43" fill="none" stroke="#ff0000" stroke-width="1"/>
<rect x="1168.5" y="791.5" width="10" height="51" fill="none" stroke="#ff0000" stroke-width="1"/>
<rect x="1182.5" y="796.5" width="10" height="46" fill="none" stroke="#ff0000" stroke-width="1"/>
<rect x="1196.5" y="761.5" width="10" height="81" fill="none" stroke="#ff0000" stroke-width="1"/>
<rect x="1210.5" y="771.5" width="10" height="71" fill="none" stroke="#ff0000" stroke-width="1"/>
<g shape-rendering="crispEdges">
<polyline points="10.5,741.6 24.5,742.2 38.5,742.3 52.5,744.0 66.5,745.5 80.5,746.9 94.5,748.0 108.5,749.7 122.5,751.4 136.5,754.0 150.5,756.1 164.5,758.0 178.5,759.7 192.5,762.5 206.5,765.8 220.5,769.6 234.5,772.4 248.5,774.9 262.5,776.3 276.5,776.6 290.5,777.1 304.5,777.0 318.5,777.1 332.5,777.6 346.5,778.0 360.5,780.2 374.5,782.9 388.5,784.5 402.5,786.1 416.5,787.8 430.5,789.4 444.5,790.4 458.5,791.9 472.5,792.8 486.5,794.0 500.5,794.9 514.5,795.8 528.5,796.7 542.5,797.6 556.5,798.3 570.5,797.3 584.5,797.1 598.5,797.6 613.5,797.5 627.5,797.6 641.5,798.4 655.5,797.5 669.5,796.9 683.5,796.1 697.5,796.0 711.5,796.2 725.5,796.3 739.5,795.6 753.5,795.1 767.5,793.1 781.5,790.4 795.5,787.5 809.5,784.6 823.5,782.1 837.5,779.8 851.5,779.8 865.5,778.1 879.5,776.2 893.5,771.9 907.5,769.4 921.5,766.7 935.5,764.5 949.5,762.9 963.5,761.6 977.5,760.1 991.5,757.6 1005.5,755.0 1019.5,752.9 1033.5,751.6 1047.5,752.5 1061.5,754.0 1075.5,757.1 1089.5,759.2 1103.5,761.0 1117.5,762.9 1131.5,764.5 1145.5,767.0 1159.5,769.2 1173.5,773.1 1187.5,775.4 1201.5,775.6 1215.5,777.2" fill="none" stroke="#1f3fff" stroke-width="1" stroke-linejoin="round"/>
<polyline points="10.5,742.2 24.5,745.5 38.5,748.7 52.5,751.6 66.5,756.8 80.5,765.3 94.5,767.5 108.5,769.2 122.5,771.0 136.5,773.2 150.5,772.1 164.5,770.4 178.5,770.4 192.5,770.6 206.5,768.5 220.5,771.9 234.5,774.7 248.5,775.8 262.5,777.8 276.5,780.1 290.5,782.0 304.5,783.6 318.5,783.8 332.5,784.6 346.5,787.5 360.5,788.5 374.5,791.0 388.5,793.1 402.5,794.5 416.5,795.5 430.5,796.8 444.5,797.3 458.5,800.0 472.5,801.0 486.5,800.5 500.5,801.3 514.5,800.5 528.5,800.3 542.5,800.8 556.5,801.1 570.5,797.8 584.5,797.0 598.5,795.2 613.5,794.1 627.5,794.7 641.5,795.4 655.5,794.5 669.5,793.4 683.5,791.5 697.5,791.0 711.5,794.7 725.5,795.6 739.5,796.0 753.5,796.1 767.5,791.4 781.5,785.3 795.5,780.4 809.5,775.8 823.5,772.8 837.5,768.5 851.5,764.9 865.5,760.6 879.5,756.4 893.5,747.7 907.5,747.3 921.5,748.0 935.5,748.6 949.5,750.0 963.5,750.4 977.5,751.6 991.5,750.2 1005.5,749.4 1019.5,749.5 1033.5,755.6 1047.5,757.6 1061.5,759.9 1075.5,765.6 1089.5,768.3 1103.5,771.7 1117.5,774.1 1131.5,778.8 1145.5,784.6 1159.5,788.9 1173.5,790.6 1187.5,793.1 1201.5,791.2 1215.5,788.9" fill="none" stroke="#e4173e" stroke-width="1" stroke-linejoin="round"/>
<polyline points="10.5,754.0 24.5,766.8 38.5,776.7 52.5,781.7 66.5,786.2 80.5,781.7 94.5,772.3 108.5,769.9 122.5,765.7 136.5,760.3 150.5,762.6 164.5,768.5 178.5,770.9 192.5,775.6 206.5,776.8 220.5,781.2 234.5,780.9 248.5,780.7 262.5,779.9 276.5,783.4 290.5,782.8 304.5,786.3 318.5,786.9 332.5,789.3 346.5,791.7 360.5,794.3 374.5,795.8 388.5,799.3 402.5,799.6 416.5,799.2 430.5,799.4 444.5,798.8 458.5,800.6 472.5,802.3 486.5,801.8 500.5,803.2 514.5,802.1 528.5,800.1 542.5,799.2 556.5,800.4 570.5,792.4 584.5,791.8 598.5,790.4 613.5,789.0 627.5,789.1 641.5,798.5 655.5,797.3 669.5,796.4 683.5,793.9 697.5,792.9 711.5,790.9 725.5,793.9 739.5,795.5 753.5,798.3 767.5,789.9 781.5,779.7 795.5,766.8 809.5,756.0 823.5,747.2 837.5,747.2 851.5,750.1 865.5,754.5 879.5,756.7 893.5,748.1 907.5,747.5 921.5,745.9 935.5,742.8 949.5,743.4 963.5,752.6 977.5,755.8 991.5,754.5 1005.5,755.9 1019.5,755.7 1033.5,758.7 1047.5,759.5 1061.5,765.4 1075.5,775.3 1089.5,780.9 1103.5,784.7 1117.5,788.7 1131.5,792.1 1145.5,793.9 1159.5,796.9 1173.5,796.5 1187.5,797.5 1201.5,790.3 1215.5,783.8" fill="none" stroke="#111111" stroke-width="1" stroke-linejoin="round"/>
</g>
<rect x="10" y="966" width="1" height="23" fill="#008c00"/>
<rect x="24" y="966" width="1" height="32" fill="#008c00"/>
<rect x="38" y="966" width="1" height="34" fill="#008c00"/>
<rect x="52" y="966" width="1" height="35" fill="#008c00"/>
<rect x="66" y="966" width="1" height="35" fill="#008c00"/>
<rect x="80" y="966" width="1" height="28" fill="#008c00"/>
<rect x="94" y="966" width="1" height="17" fill="#008c00"/>
<rect x="108" y="966" width="1" height="10" fill="#008c00"/>
<rect x="122" y="966" width="1" height="6" fill="#008c00"/>
<rect x="136" y="966" width="1" height="6" fill="#008c00"/>
<rect x="150" y="966" width="1" height="14" fill="#008c00"/>
<rect x="164" y="966" width="1" height="20" fill="#008c00"/>
<rect x="178" y="966" width="1" height="22" fill="#008c00"/>
<rect x="192" y="966" width="1" height="23" fill="#008c00"/>
<rect x="206" y="966" width="1" height="18" fill="#008c00"/>
<rect x="220" y="966" width="1" height="13" fill="#008c00"/>
<rect x="234" y="966" width="1" height="7" fill="#008c00"/>
<rect x="248" y="966" width="1" height="6" fill="#008c00"/>
<rect x="262" y="966" width="1" height="7" fill="#008c00"/>
<rect x="276" y="966" width="1" height="7" fill="#008c00"/>
<rect x="290" y="966" width="1" height="10" fill="#008c00"/>
<rect x="304" y="966" width="1" height="14" fill="#008c00"/>
<rect x="318" y="966" width="1" height="14" fill="#008c00"/>
<rect x="332" y="966" width="1" height="15" fill="#008c00"/>
<rect x="346" y="966" width="1" height="19" fill="#008c00"/>
<rect x="360" y="966" width="1" height="26" fill="#008c00"/>
<rect x="374" y="966" width="1" height="29" fill="#008c00"/>
<rect x="388" y="966" width="1" height="29" fill="#008c00"/>
<rect x="402" y="966" width="1" height="27" fill="#008c00"/>
<rect x="416" y="966" width="1" height="25" fill="#008c00"/>
<rect x="430" y="966" width="1" height="18" fill="#008c00"/>
<rect x="444" y="966" width="1" height="12" fill="#008c00"/>
<rect x="458" y="966" width="1" height="9" fill="#008c00"/>
<rect x="472" y="966" width="1" height="8" fill="#008c00"/>
<rect x="486" y="966" width="1" height="3" fill="#008c00"/>
<rect x="500" y="965" width="1" height="1" fill="#ff0000"/>
<rect x="514" y="961" width="1" height="5" fill="#ff0000"/>
<rect x="528" y="959" width="1" height="7" fill="#ff0000"/>
<rect x="542" y="958" width="1" height="8" fill="#ff0000"/>
<rect x="556" y="957" width="1" height="9" fill="#ff0000"/>
<rect x="570" y="950" width="1" height="16" fill="#ff0000"/>
<rect x="584" y="949" width="1" height="17" fill="#ff0000"/>
<rect x="598" y="950" width="1" height="16" fill="#ff0000"/>
<rect x="613" y="949" width="1" height="17" fill="#ff0000"/>
<rect x="627" y="953" width="1" height="13" fill="#ff0000"/>
<rect x="641" y="957" width="1" height="9" fill="#ff0000"/>
<rect x="655" y="953" width="1" height="13" fill="#ff0000"/>
<rect x="669" y="950" width="1" height="16" fill="#ff0000"/>
<rect x="683" y="948" width="1" height="18" fill="#ff0000"/>
<rect x="697" y="948" width="1" height="18" fill="#ff0000"/>
<rect x="711" y="951" width="1" height="15" fill="#ff0000"/>
<rect x="725" y="956" width="1" height="10" fill="#ff0000"/>
<rect x="739" y="960" width="1" height="6" fill="#ff0000"/>
<rect x="753" y="963" width="1" height="3" fill="#ff0000"/>
<rect x="767" y="958" width="1" height="8" fill="#ff0000"/>
<rect x="781" y="951" width="1" height="15" fill="#ff0000"/>
<rect x="795" y="936" width="1" height="30" fill="#ff0000"/>
<rect x="809" y="928" width="1" height="38" fill="#ff0000"/>
<rect x="823" y="927" width="1" height="39" fill="#ff0000"/>
<rect x="837" y="928" width="1" height="38" fill="#ff0000"/>
<rect x="851" y="938" width="1" height="28" fill="#ff0000"/>
<rect x="865" y="943" width="1" height="23" fill="#ff0000"/>
<rect x="879" y="941" width="1" height="25" fill="#ff0000"/>
<rect x="893" y="931" width="1" height="35" fill="#ff0000"/>
<rect x="907" y="929" width="1" height="37" fill="#ff0000"/>
<rect x="921" y="932" width="1" height="34" fill="#ff0000"/>
<rect x="935" y="936" width="1" height="30" fill="#ff0000"/>
<rect x="949" y="945" width="1" height="21" fill="#ff0000"/>
<rect x="963" y="950" width="1" height="16" fill="#ff0000"/>
<rect x="977" y="963" width="1" height="3" fill="#ff0000"/>
<rect x="991" y="965" width="1" height="1" fill="#ff0000"/>
<rect x="1019" y="966" width="1" height="10" fill="#008c00"/>
<rect x="1033" y="966" width="1" height="19" fill="#008c00"/>
<rect x="1047" y="966" width="1" height="35" fill="#008c00"/>
<rect x="1061" y="966" width="1" height="38" fill="#008c00"/>
<rect x="1075" y="966" width="1" height="41" fill="#008c00"/>
<rect x="1089" y="966" width="1" height="42" fill="#008c00"/>
<rect x="1103" y="966" width="1" height="42" fill="#008c00"/>
<rect x="1117" y="966" width="1" height="38" fill="#008c00"/>
<rect x="1131" y="966" width="1" height="33" fill="#008c00"/>
<rect x="1145" y="966" width="1" height="31" fill="#008c00"/>
<rect x="1159" y="966" width="1" height="29" fill="#008c00"/>
<rect x="1173" y="966" width="1" height="24" fill="#008c00"/>
<rect x="1187" y="966" width="1" height="20" fill="#008c00"/>
<rect x="1201" y="966" width="1" height="8" fill="#008c00"/>
<rect x="1215" y="964" width="1" height="2" fill="#ff0000"/>
<g shape-rendering="crispEdges">
<polyline points="10.5,902.4 24.5,906.2 38.5,910.5 52.5,915.5 66.5,919.4 80.5,922.3 94.5,925.4 108.5,926.5 122.5,927.5 136.5,927.5 150.5,929.7 164.5,931.8 178.5,933.9 192.5,937.2 206.5,939.2 220.5,941.4 234.5,942.4 248.5,942.7 262.5,943.4 276.5,944.1 290.5,945.3 304.5,947.4 318.5,949.3 332.5,950.7 346.5,953.8 360.5,956.6 374.5,959.8 388.5,963.0 402.5,966.3 416.5,969.4 430.5,972.3 444.5,973.4 458.5,974.4 472.5,975.4 486.5,975.4 500.5,974.8 514.5,974.4 528.5,973.0 542.5,972.0 556.5,971.1 570.5,968.0 584.5,966.6 598.5,964.7 613.5,962.3 627.5,960.5 641.5,959.2 655.5,957.4 669.5,955.2 683.5,952.6 697.5,950.3 711.5,948.1 725.5,946.3 739.5,945.0 753.5,945.0 767.5,943.6 781.5,941.0 795.5,937.5 809.5,933.6 823.5,928.2 837.5,923.3 851.5,919.5 865.5,916.2 879.5,913.3 893.5,908.4 907.5,903.7 921.5,899.5 935.5,895.6 949.5,892.4 963.5,890.6 977.5,890.6 991.5,889.2 1005.5,889.2 1019.5,891.3 1033.5,893.4 1047.5,897.0 1061.5,902.0 1075.5,907.2 1089.5,911.9 1103.5,918.3 1117.5,921.8 1131.5,925.8 1145.5,930.4 1159.5,934.3 1173.5,937.5 1187.5,939.6 1201.5,939.3 1215.5,940.3" fill="none" stroke="#e4173e" stroke-width="1" stroke-linejoin="round"/>
<polyline points="10.5,913.0 24.5,922.3 38.5,927.2 52.5,932.0 66.5,937.5 80.5,936.3 94.5,933.5 108.5,931.1 122.5,929.1 136.5,930.4 150.5,936.8 164.5,941.7 178.5,943.9 192.5,948.1 206.5,948.4 220.5,947.4 234.5,945.3 248.5,945.3 262.5,946.3 276.5,947.4 290.5,950.7 304.5,954.5 318.5,955.7 332.5,958.8 346.5,962.6 360.5,968.0 374.5,974.4 388.5,977.2 402.5,979.1 416.5,981.2 430.5,980.1 444.5,979.4 458.5,978.4 472.5,979.1 486.5,976.5 500.5,974.4 514.5,971.1 528.5,969.4 542.5,967.7 556.5,966.3 570.5,959.8 584.5,957.4 598.5,955.7 613.5,953.5 627.5,953.5 641.5,953.5 655.5,950.3 669.5,946.0 683.5,942.3 697.5,940.3 711.5,939.3 725.5,939.6 739.5,941.0 753.5,943.2 767.5,939.6 781.5,932.5 795.5,924.0 809.5,914.0 823.5,908.4 837.5,903.7 851.5,905.2 865.5,904.4 879.5,899.8 893.5,891.3 907.5,884.5 921.5,882.1 935.5,879.2 949.5,881.4 963.5,882.5 977.5,887.3 991.5,888.5 1005.5,889.2 1019.5,896.5 1033.5,902.4 1047.5,915.2 1061.5,921.1 1075.5,926.8 1089.5,933.2 1103.5,939.3 1117.5,941.4 1131.5,943.6 1145.5,946.7 1159.5,948.4 1173.5,949.3 1187.5,949.2 1201.5,943.8 1215.5,938.1" fill="none" stroke="#111111" stroke-width="1" stroke-linejoin="round"/>
</g>
<rect x="1192" y="88" width="24" height="1" fill="#2f8ab4"/>
<rect x="1214" y="87" width="1" height="1" fill="#2f8ab4"/>
<rect x="1214" y="89" width="1" height="1" fill="#2f8ab4"/>
<rect x="1213" y="86" width="1" height="1" fill="#2f8ab4"/>
<rect x="1213" y="90" width="1" height="1" fill="#2f8ab4"/>
<rect x="1212" y="85" width="1" height="1" fill="#2f8ab4"/>
<rect x="1212" y="91" width="1" height="1" fill="#2f8ab4"/>
<rect x="1211" y="84" width="1" height="1" fill="#2f8ab4"/>
<rect x="1211" y="92" width="1" height="1" fill="#2f8ab4"/>
<rect x="1210" y="83" width="1" height="1" fill="#2f8ab4"/>
<rect x="1210" y="93" width="1" height="1" fill="#2f8ab4"/>
<rect x="351" y="493" width="24" height="1" fill="#2f8ab4"/>
<rect x="373" y="492" width="1" height="1" fill="#2f8ab4"/>
<rect x="373" y="494" width="1" height="1" fill="#2f8ab4"/>
<rect x="372" y="491" width="1" height="1" fill="#2f8ab4"/>
<rect x="372" y="495" width="1" height="1" fill="#2f8ab4"/>
<rect x="371" y="490" width="1" height="1" fill="#2f8ab4"/>
<rect x="371" y="496" width="1" height="1" fill="#2f8ab4"/>
<rect x="370" y="489" width="1" height="1" fill="#2f8ab4"/>
<rect x="370" y="497" width="1" height="1" fill="#2f8ab4"/>
<rect x="369" y="488" width="1" height="1" fill="#2f8ab4"/>
<rect x="369" y="498" width="1" height="1" fill="#2f8ab4"/>
<rect x="3" y="1046" width="1278" height="2" fill="#dcdcdc"/>
<rect x="3" y="1048" width="1278" height="8" fill="#f2f2f2"/>
<rect x="423" y="1048" width="116" height="8" fill="#d6d6d6"/>
<rect x="117" y="1048" width="1" height="8" fill="#ffffff"/>
<rect x="231" y="1048" width="1" height="8" fill="#ffffff"/>
<rect x="334" y="1048" width="1" height="8" fill="#ffffff"/>
<rect x="622" y="1048" width="1" height="8" fill="#ffffff"/>
<rect x="714" y="1048" width="1" height="8" fill="#ffffff"/>
<rect x="818" y="1048" width="1" height="8" fill="#ffffff"/>
<rect x="863" y="1048" width="1" height="8" fill="#ffffff"/>
<rect x="828.5" y="1054.5" width="25" height="6" rx="2" fill="#b0b0b0" stroke="#666" stroke-width="1.2"/>
</svg>
<svg width="1281" height="1056" style="position:absolute;left:0;top:0">
<g>
<path d="M1260.5,419.5 H1281 V449 H1260.5 V441.5 L1253,434 L1260.5,426.5 Z" fill="#4a8282"/>
<path d="M1260.5,470.5 H1281 V500 H1260.5 V493 L1253,485.5 L1260.5,478 Z" fill="#d90c2f"/>
<path d="M1260.5,577 H1281 V606 H1260.5 V598.5 L1253,591 L1260.5,583.5 Z" fill="#8a3c10"/>
<rect x="5" y="849" width="27" height="27" rx="3" fill="#f2f2f2"/>
</g>
<text x="5.47" y="19" fill="#1a1a1a" font-size="22.5" textLength="311.70" lengthAdjust="spacingAndGlyphs">950125.CSI[科创半导体材料设备]</text>
<text x="338.98" y="19" fill="#1a1a1a" font-size="22.5" textLength="113.30" lengthAdjust="spacingAndGlyphs">2025/11/12</text>
<text x="468.00" y="19" fill="#1a1a1a" font-size="22.5" textLength="22.50" lengthAdjust="spacingAndGlyphs">收</text>
<text x="491.56" y="19" fill="#0a8a0a" font-size="22.5" textLength="76.42" lengthAdjust="spacingAndGlyphs">2085.29</text>
<text x="584.05" y="19" fill="#1a1a1a" font-size="22.5" textLength="21.43" lengthAdjust="spacingAndGlyphs">幅</text>
<text x="608.55" y="19" fill="#0a8a0a" font-size="22.5" textLength="142.92" lengthAdjust="spacingAndGlyphs">-0.89%(-18.70)</text>
<text x="766.95" y="19" fill="#1a1a1a" font-size="22.5" textLength="23.57" lengthAdjust="spacingAndGlyphs">开</text>
<text x="792.06" y="19" fill="#0a8a0a" font-size="22.5" textLength="76.42" lengthAdjust="spacingAndGlyphs">2083.02</text>
<text x="884.10" y="19" fill="#1a1a1a" font-size="22.5" textLength="20.36" lengthAdjust="spacingAndGlyphs">高</text>
<text x="908.05" y="19" fill="#d40a0a" font-size="22.5" textLength="77.24" lengthAdjust="spacingAndGlyphs">2124.20</text>
<text x="1000.60" y="19" fill="#1a1a1a" font-size="22.5" textLength="21.89" lengthAdjust="spacingAndGlyphs">低</text>
<text x="1024.06" y="19" fill="#0a8a0a" font-size="22.5" textLength="76.42" lengthAdjust="spacingAndGlyphs">2044.82</text>
<text x="1115.80" y="19" fill="#1a1a1a" font-size="22.5" textLength="21.68" lengthAdjust="spacingAndGlyphs">换</text>
<text x="1140.08" y="19" fill="#1a1a1a" font-size="22.5" textLength="58.83" lengthAdjust="spacingAndGlyphs">2.21%</text>
<text x="1215.00" y="19" fill="#1a1a1a" font-size="22.5" textLength="21.78" lengthAdjust="spacingAndGlyphs">振</text>
<text x="1239.80" y="19" fill="#1a1a1a" font-size="22.5" textLength="57.71" lengthAdjust="spacingAndGlyphs">3.77%</text>
<text x="6.21" y="50.8" fill="#1a1a1a" font-size="22" textLength="44.82" lengthAdjust="spacingAndGlyphs">MA5</text>
<text x="59.63" y="50.8" fill="#e4102c" font-size="22" textLength="77.10" lengthAdjust="spacingAndGlyphs">2100.46</text>
<text x="135.52" y="50.3" fill="#e4102c" font-size="18.5" textLength="15.17" lengthAdjust="spacingAndGlyphs" style='font-family:"Noto Sans CJK SC", sans-serif'>↑</text>
<text x="154.99" y="50.8" fill="#1a1a1a" font-size="22" textLength="57.84" lengthAdjust="spacingAndGlyphs">MA10</text>
<text x="221.04" y="50.8" fill="#3a7fc0" font-size="22" textLength="76.69" lengthAdjust="spacingAndGlyphs">2065.72</text>
<text x="296.52" y="50.3" fill="#3a7fc0" font-size="18.5" textLength="15.17" lengthAdjust="spacingAndGlyphs" style='font-family:"Noto Sans CJK SC", sans-serif'>↓</text>
<text x="316.21" y="50.8" fill="#1a1a1a" font-size="22" textLength="56.62" lengthAdjust="spacingAndGlyphs">MA20</text>
<text x="382.05" y="50.8" fill="#1a1aff" font-size="22" textLength="75.37" lengthAdjust="spacingAndGlyphs">2052.91</text>
<text x="456.22" y="50.3" fill="#1a1aff" font-size="18.5" textLength="15.17" lengthAdjust="spacingAndGlyphs" style='font-family:"Noto Sans CJK SC", sans-serif'>↑</text>
<text x="477.31" y="50.8" fill="#1a1a1a" font-size="22" textLength="56.62" lengthAdjust="spacingAndGlyphs">MA60</text>
<text x="543.55" y="50.8" fill="#18c2da" font-size="22" textLength="75.78" lengthAdjust="spacingAndGlyphs">1895.62</text>
<text x="618.12" y="50.3" fill="#18c2da" font-size="18.5" textLength="15.17" lengthAdjust="spacingAndGlyphs" style='font-family:"Noto Sans CJK SC", sans-serif'>↑</text>
<text x="638.82" y="50.8" fill="#1a1a1a" font-size="22" textLength="68.21" lengthAdjust="spacingAndGlyphs">MA120</text>
<text x="716.66" y="50.8" fill="#22aa33" font-size="22" textLength="74.46" lengthAdjust="spacingAndGlyphs">1669.76</text>
<text x="789.92" y="50.3" fill="#22aa33" font-size="18.5" textLength="15.17" lengthAdjust="spacingAndGlyphs" style='font-family:"Noto Sans CJK SC", sans-serif'>↑</text>
<text x="811.51" y="50.8" fill="#1a1a1a" font-size="22" textLength="68.72" lengthAdjust="spacingAndGlyphs">MA250</text>
<text x="889.34" y="50.8" fill="#d61cf0" font-size="22" textLength="76.18" lengthAdjust="spacingAndGlyphs">1560.22</text>
<text x="964.32" y="50.3" fill="#d61cf0" font-size="18.5" textLength="15.17" lengthAdjust="spacingAndGlyphs" style='font-family:"Noto Sans CJK SC", sans-serif'>↑</text>
<text x="983.90" y="50.8" fill="#1a1a1a" font-size="22" textLength="57.33" lengthAdjust="spacingAndGlyphs">MA50</text>
<text x="1049.83" y="50.8" fill="#f7a81b" font-size="22" textLength="77.20" lengthAdjust="spacingAndGlyphs">1948.87</text>
<text x="1125.82" y="50.3" fill="#f7a81b" font-size="18.5" textLength="15.17" lengthAdjust="spacingAndGlyphs" style='font-family:"Noto Sans CJK SC", sans-serif'>↑</text>
<text x="1145.41" y="50.8" fill="#1a1a1a" font-size="22" textLength="56.82" lengthAdjust="spacingAndGlyphs">MA90</text>
<text x="1211.33" y="50.8" fill="#b8a684" font-size="22" textLength="77.20" lengthAdjust="spacingAndGlyphs">1760.96</text>
<text x="1287.32" y="50.3" fill="#b8a684" font-size="18.5" textLength="15.17" lengthAdjust="spacingAndGlyphs" style='font-family:"Noto Sans CJK SC", sans-serif'>↑</text>
<text x="6.60" y="702.9" fill="#111" font-size="22" textLength="146.97" lengthAdjust="spacingAndGlyphs">AMO: 216.97亿</text>
<text x="160.93" y="702.9" fill="#111" font-size="22" textLength="155.83" lengthAdjust="spacingAndGlyphs">MA(5): 250.09亿</text>
<text x="324.03" y="702.9" fill="#e0103a" font-size="22" textLength="168.34" lengthAdjust="spacingAndGlyphs">MA(10): 258.50亿</text>
<text x="500.33" y="702.9" fill="#1a2aff" font-size="22" textLength="169.15" lengthAdjust="spacingAndGlyphs">MA(20): 264.39亿</text>
<text x="33.35" y="869.2" fill="#222" font-size="22" textLength="145.72" lengthAdjust="spacingAndGlyphs">MACD(12,26,9)</text>
<text x="187.07" y="869.2" fill="#111" font-size="22" textLength="118.55" lengthAdjust="spacingAndGlyphs">DIF: 35.5832</text>
<text x="315.88" y="869.2" fill="#e0103a" font-size="22" textLength="126.14" lengthAdjust="spacingAndGlyphs">DEA: 41.1753</text>
<text x="451.02" y="869.2" fill="#22aa3a" font-size="22" textLength="158.51" lengthAdjust="spacingAndGlyphs">MACD: -11.1842</text>
<text x="12.39" y="1036" fill="#8a8a8a" font-size="22" textLength="56.85" lengthAdjust="spacingAndGlyphs">25-10</text>
<text x="166.50" y="1036" fill="#8a8a8a" font-size="22" textLength="54.74" lengthAdjust="spacingAndGlyphs">25-11</text>
<text x="447.10" y="1036" fill="#8a8a8a" font-size="22" textLength="56.23" lengthAdjust="spacingAndGlyphs">25-12</text>
<text x="769.95" y="1036" fill="#8a8a8a" font-size="22" textLength="53.37" lengthAdjust="spacingAndGlyphs">26-01</text>
<text x="1050.20" y="1036" fill="#8a8a8a" font-size="22" textLength="56.03" lengthAdjust="spacingAndGlyphs">26-02</text>
<text x="1257.85" y="92.7" fill="#8a8a8a" font-size="22" textLength="46.37" lengthAdjust="spacingAndGlyphs">2750</text>
<text x="1257.85" y="208.6" fill="#8a8a8a" font-size="22" textLength="46.37" lengthAdjust="spacingAndGlyphs">2500</text>
<text x="1257.85" y="324.5" fill="#8a8a8a" font-size="22" textLength="46.37" lengthAdjust="spacingAndGlyphs">2250</text>
<text x="1257.85" y="556.5" fill="#8a8a8a" font-size="22" textLength="46.37" lengthAdjust="spacingAndGlyphs">1750</text>
<text x="1257.85" y="670.2" fill="#8a8a8a" font-size="22" textLength="46.37" lengthAdjust="spacingAndGlyphs">1500</text>
<text x="1258.80" y="772.4" fill="#8a8a8a" font-size="22" textLength="33.72" lengthAdjust="spacingAndGlyphs">300</text>
<text x="1258.80" y="836.6" fill="#8a8a8a" font-size="22" textLength="10.30" lengthAdjust="spacingAndGlyphs">0</text>
<text x="1257.86" y="914.7" fill="#8a8a8a" font-size="22" textLength="34.67" lengthAdjust="spacingAndGlyphs">100</text>
<text x="1258.80" y="973.6" fill="#8a8a8a" font-size="22" textLength="10.30" lengthAdjust="spacingAndGlyphs">0</text>
<text x="13.80" y="871" fill="#222" font-size="22" textLength="8.87" lengthAdjust="spacingAndGlyphs">?</text>
<text x="1266.55" y="442.7" fill="#ffffff" font-size="22" textLength="46.37" lengthAdjust="spacingAndGlyphs">2000</text>
<text x="1267.96" y="493.3" fill="#ffffff" font-size="22" textLength="45.86" lengthAdjust="spacingAndGlyphs">1880</text>
<text x="1268.06" y="599.8" fill="#ffffff" font-size="22" textLength="45.86" lengthAdjust="spacingAndGlyphs">1600</text>
<text x="1115.03" y="96" fill="#cc0000" font-size="22" textLength="76.89" lengthAdjust="spacingAndGlyphs">2751.44</text>
<text x="274.55" y="500.6" fill="#007f00" font-size="22" textLength="75.47" lengthAdjust="spacingAndGlyphs">1880.26</text>
</svg>
</div></body></html>
